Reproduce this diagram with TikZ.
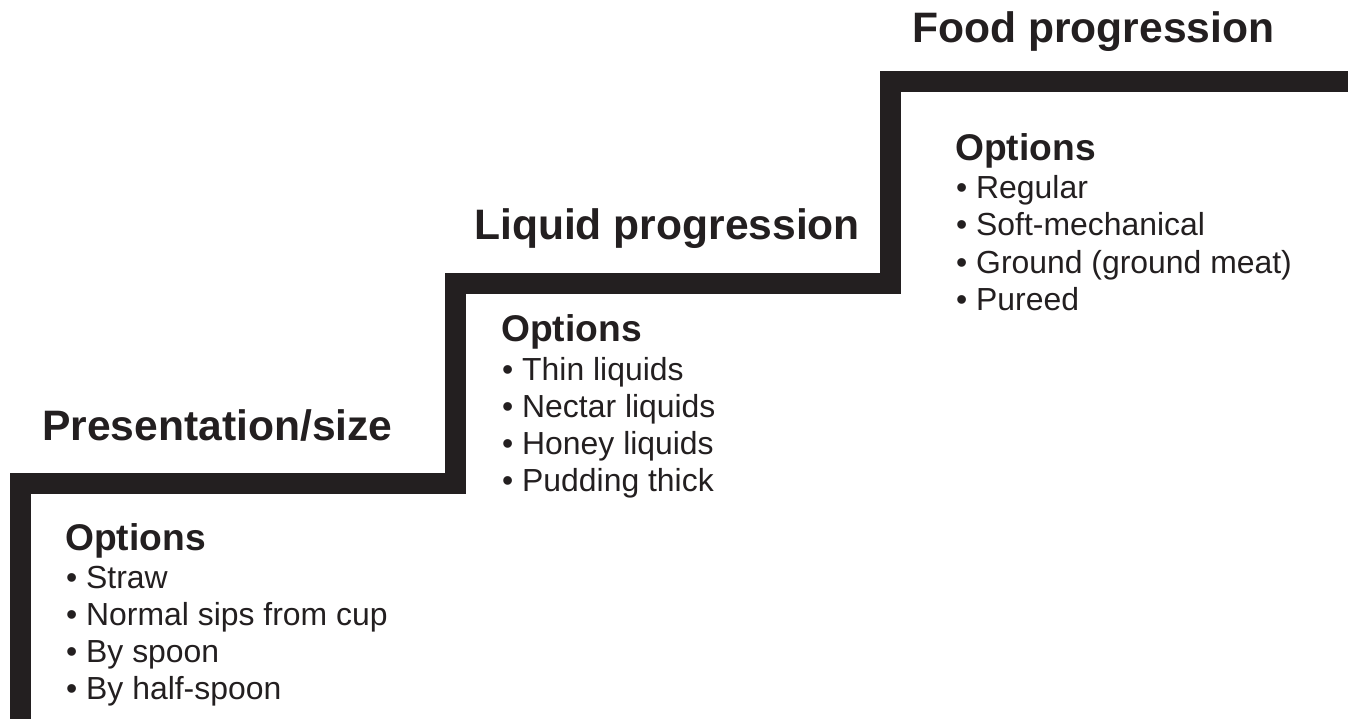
\documentclass[tikz,border=0pt]{standalone}
\usepackage{fontspec}
\setmainfont{Liberation Sans}
\definecolor{ink}{HTML}{231F20}
\begin{document}
\begin{tikzpicture}[x=1pt,y=-1pt,
  stair/.style={draw=ink,line width=21pt,miter limit=10,line join=miter},
  stephead/.style={inner sep=0pt,anchor=base west,text=ink,font=\fontsize{42.6}{50}\selectfont\bfseries},
  opthead/.style={inner sep=0pt,anchor=base west,text=ink,font=\fontsize{37.2}{44}\selectfont\bfseries},
  optitem/.style={inner sep=0pt,anchor=base west,text=ink,font=\fontsize{31.9}{38}\selectfont}]
\useasboundingbox (0,0) rectangle (1348,719);
\clip (0,0) rectangle (1348,719);
% staircase
\coordinate (s0) at (20,740);
\coordinate (s1) at (20,483);
\coordinate (s2) at (455,483);
\coordinate (s3) at (455,283);
\coordinate (s4) at (890.5,283);
\coordinate (s5) at (890.5,82);
\coordinate (s6) at (1370,82);
\draw[stair] (s0) -- (s1) -- (s2) -- (s3) -- (s4) -- (s5) -- (s6);
% headings
\node[stephead] (h1) at (42,440) {Presentation/size};
\node[stephead] (h2) at (474,240) {Liquid progression};
\node[stephead] (h3) at (912,43) {Food progression};
% step 1 options
\node[opthead] (o1) at (65,550) {Options};
\node[optitem] (a1) at (66,588) {• Straw};
\node[optitem] (a2) at (66,625) {• Normal sips from cup};
\node[optitem] (a3) at (66,662) {• By spoon};
\node[optitem] (a4) at (66,699) {• By half-spoon};
% step 2 options
\node[opthead] (o2) at (501,341) {Options};
\node[optitem] (b1) at (502,380) {• Thin liquids};
\node[optitem] (b2) at (502,417) {• Nectar liquids};
\node[optitem] (b3) at (502,454) {• Honey liquids};
\node[optitem] (b4) at (502,491) {• Pudding thick};
% step 3 options
\node[opthead] (o3) at (955,161) {Options};
\node[optitem] (c1) at (956,199) {• Regular};
\node[optitem] (c2) at (956,236) {• Soft-mechanical};
\node[optitem] (c3) at (956,273) {• Ground (ground meat)};
\node[optitem] (c4) at (956,310) {• Pureed};
\end{tikzpicture}
\end{document}
